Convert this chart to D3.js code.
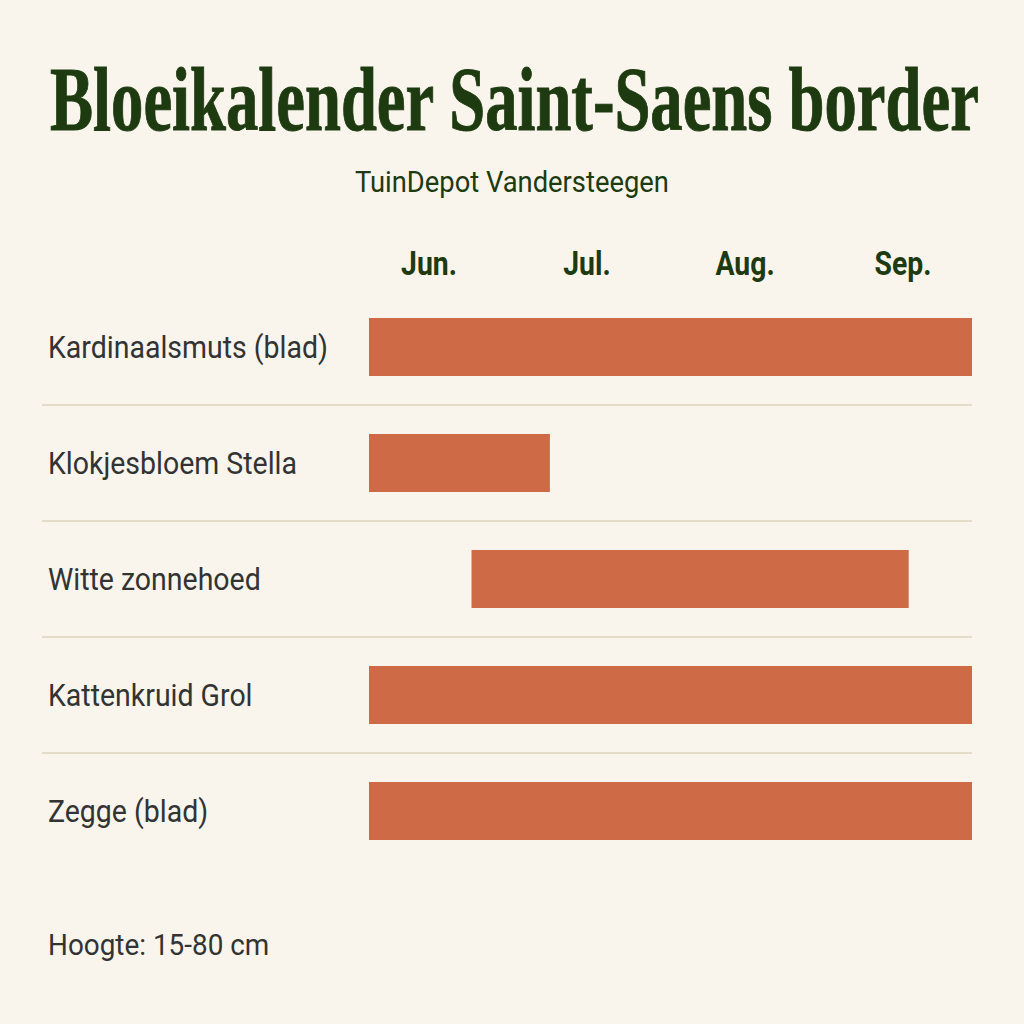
<!DOCTYPE html>
<html>
<head>
<meta charset="utf-8">
<script src="https://cdn.jsdelivr.net/npm/d3@7"></script>
<style>
  html, body { margin: 0; padding: 0; background: #f9f5ec; }
  svg { display: block; }
</style>
</head>
<body>
<script>
var width = 1024,
    height = 1024;

// Planten (rijen) en bloeiperiode in maanden (6 = begin juni, 10 = eind september)
const planten = [
    "Kardinaalsmuts (blad)",
    "Klokjesbloem Stella",
    "Witte zonnehoed",
    "Kattenkruid Grol",
    "Zegge (blad)"
];
const bloeiStart = [6.0, 6.0, 6.68, 6.0, 6.0];
const bloeiEinde = [10.0, 7.2, 9.58, 10.0, 10.0];

// Maandlabels bovenaan
const maanden = ["Jun.", "Jul.", "Aug.", "Sep."];

const titel = "Bloeikalender Saint-Saens border";
const ondertitel = "TuinDepot Vandersteegen";
const voetnoot = "Hoogte: 15-80 cm";

var groen = "#1d3a10",
    oranje = "#cf6a47",
    lijn = "#e4dcc9",
    grijs = "#333333";

var svg = d3.select("body")
    .append("svg")
    .attr("width", width)
    .attr("height", height);

svg.append("rect")
    .attr("width", width)
    .attr("height", height)
    .attr("fill", "#f9f5ec");

// --- schalen ---
var x = d3.scaleLinear()
    .domain([6, 10])
    .range([369, 972]);

// de maandlabels staan iets breder verdeeld dan de balken
var xMaand = d3.scaleBand()
    .domain(maanden)
    .range([350, 982]);

var y = d3.scaleBand()
    .domain(planten)
    .range([289, 869])
    .paddingInner(0.5)
    .paddingOuter(0.25);

// tekst horizontaal smaller maken tot een gewenste breedte
function pasBreedte(sel, x0, y0, breedte) {
    var w = sel.node().getComputedTextLength();
    sel.attr("transform", `translate(${x0},${y0}) scale(${breedte / w},1)`);
}

// --- titel ---
var t = svg.append("text")
    .style("font-family", "'Liberation Serif', 'DejaVu Serif', serif")
    .style("font-weight", "bold")
    .style("font-size", "90px")
    .style("fill", groen)
    .style("stroke", groen)
    .style("stroke-width", "1px")
    .text(titel);
pasBreedte(t, 50, 130, 929);

var st = svg.append("text")
    .style("font-family", "Roboto, 'Noto Sans', sans-serif")
    .style("font-size", "29px")
    .style("fill", groen)
    .text(ondertitel);
pasBreedte(st, 355, 192, 314);

// --- maandlabels ---
svg.append("g")
    .selectAll("text")
    .data(maanden)
    .join("text")
    .attr("transform", d => `translate(${xMaand(d) + xMaand.bandwidth() / 2},275) scale(0.86,1)`)
    .attr("text-anchor", "middle")
    .style("font-family", "Roboto, 'Noto Sans', sans-serif")
    .style("font-weight", "bold")
    .style("font-size", "33px")
    .style("fill", groen)
    .text(d => d);

// --- scheidingslijnen tussen de rijen ---
svg.append("g")
    .selectAll("line")
    .data(planten.slice(1))
    .join("line")
    .attr("x1", 42)
    .attr("x2", x(10))
    .attr("y1", d => y(d) - y.step() * y.paddingInner() / 2)
    .attr("y2", d => y(d) - y.step() * y.paddingInner() / 2)
    .style("stroke", lijn)
    .style("stroke-width", "2px");

// --- balken ---
svg.append("g")
    .selectAll("rect")
    .data(planten)
    .join("rect")
    .attr("x", (d, i) => x(bloeiStart[i]))
    .attr("y", d => y(d))
    .attr("width", (d, i) => x(bloeiEinde[i]) - x(bloeiStart[i]))
    .attr("height", y.bandwidth())
    .style("fill", oranje);

// --- rijlabels ---
svg.append("g")
    .selectAll("text")
    .data(planten)
    .join("text")
    .attr("transform", d => `translate(48,${y(d) + y.bandwidth() / 2 + 11}) scale(0.89,1)`)
    .style("font-family", "Roboto, 'Noto Sans', sans-serif")
    .style("font-size", "32px")
    .style("fill", grijs)
    .text(d => d);

// --- voetnoot ---
svg.append("text")
    .attr("transform", "translate(48,955) scale(0.93,1)")
    .style("font-family", "Roboto, 'Noto Sans', sans-serif")
    .style("font-size", "30px")
    .style("fill", grijs)
    .text(voetnoot);
</script>
</body>
</html>
